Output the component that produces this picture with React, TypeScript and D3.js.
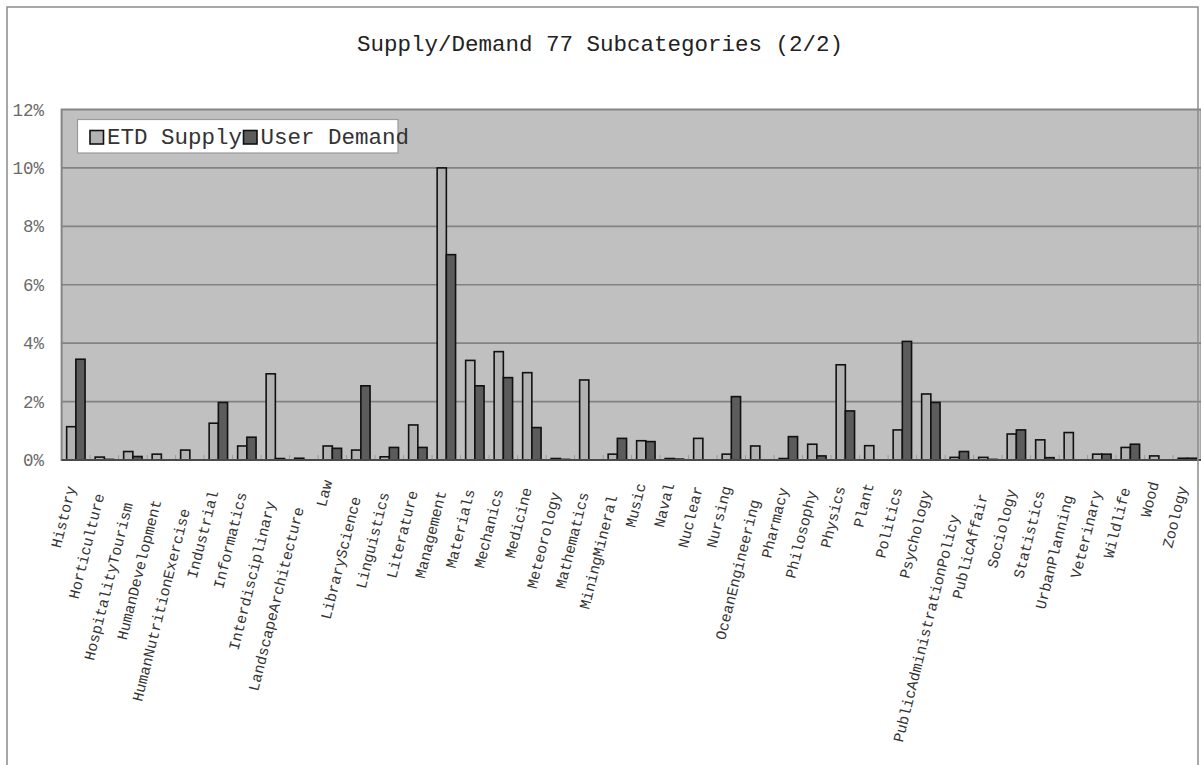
import React from "react";
import * as d3 from "d3";

// Subject subcategories, second half of the 77 (in chart order)
const categories = [
  "History", "Horticulture", "HospitalityTourism", "HumanDevelopment",
  "HumanNutritionExercise", "Industrial", "Informatics", "Interdisciplinary",
  "LandscapeArchitecture", "Law", "LibraryScience", "Linguistics", "Literature",
  "Management", "Materials", "Mechanics", "Medicine", "Meteorology",
  "Mathematics", "MiningMineral", "Music", "Naval", "Nuclear", "Nursing",
  "OceanEngineering", "Pharmacy", "Philosophy", "Physics", "Plant", "Politics",
  "Psychology", "PublicAdministrationPolicy", "PublicAffair", "Sociology",
  "Statistics", "UrbanPlanning", "Veterinary", "Wildlife", "Wood", "Zoology",
];

// Share of ETD supply per subcategory (%)
const etdSupply = [
  1.14, 0.1, 0.29, 0.2, 0.34, 1.26, 0.48, 2.95, 0.06, 0.48, 0.34, 0.11, 1.2,
  10.0, 3.41, 3.71, 2.99, 0.05, 2.74, 0.2, 0.66, 0.05, 0.74, 0.2, 0.48, 0.05,
  0.54, 3.26, 0.49, 1.03, 2.26, 0.09, 0.09, 0.89, 0.69, 0.94, 0.2, 0.43, 0.14,
  0.06,
];

// Share of user demand per subcategory (%)
const userDemand = [
  3.45, 0.02, 0.12, 0, 0, 1.97, 0.78, 0.05, 0, 0.4, 2.54, 0.43, 0.43, 7.03,
  2.54, 2.82, 1.11, 0.02, 0, 0.74, 0.63, 0.03, 0, 2.17, 0, 0.8, 0.14, 1.68, 0,
  4.06, 1.97, 0.29, 0.02, 1.03, 0.08, 0, 0.2, 0.54, 0, 0.06,
];

const seriesNames = ["ETD Supply", "User Demand"];
const seriesFills = ["#b2b2b2", "#5c5c5c"];
const yTicks = [0, 2, 4, 6, 8, 10, 12];
const chartTitle = "Supply/Demand 77 Subcategories (2/2)";

const W = 1201;
const H = 765;
const plot = { left: 61.6, right: 1201.6, top: 109.5, bottom: 460 };
const MONO = "'Liberation Mono', 'DejaVu Sans Mono', monospace";

export default function App() {
  const x = d3
    .scaleBand<string>()
    .domain(categories)
    .range([plot.left, plot.right])
    .paddingInner(0.354)
    .paddingOuter(0.177);

  const xSeries = d3
    .scaleBand<number>()
    .domain([0, 1])
    .range([0, x.bandwidth()])
    .padding(0);

  const y = d3.scaleLinear().domain([0, 12]).range([plot.bottom, plot.top]);

  const step = x.step();
  const series = [etdSupply, userDemand];

  const legendFont = 22.5;
  const charW = legendFont * 0.6;
  const legendItems = (() => {
    let cx = 90;
    return seriesNames.map((name, i) => {
      const item = { name, fill: seriesFills[i], sx: cx, tx: cx + 17 };
      cx = item.tx + name.length * charW + 1.5;
      return item;
    });
  })();

  return (
    <svg
      width={W}
      height={H}
      viewBox={`0 0 ${W} ${H}`}
      style={{ position: "absolute", left: 0, top: 0, background: "#fff" }}
    >
      <rect x={0} y={0} width={W} height={H} fill="#fff" />

      {/* title */}
      <text
        x={600}
        y={50.5}
        textAnchor="middle"
        fontFamily={MONO}
        fontSize={22.5}
        fill="#222"
      >
        {chartTitle}
      </text>

      {/* plot area */}
      <rect
        x={plot.left}
        y={plot.top}
        width={plot.right - plot.left}
        height={plot.bottom - plot.top}
        fill="#c0c0c0"
        stroke="#858585"
        strokeWidth={2}
      />

      {/* gridlines */}
      {yTicks
        .filter((t) => t > 0 && t < 12)
        .map((t) => (
          <line
            key={`g${t}`}
            x1={plot.left}
            x2={plot.right}
            y1={y(t)}
            y2={y(t)}
            stroke="#828282"
            strokeWidth={1.6}
          />
        ))}

      {/* category tick marks */}
      {categories.map((c, i) => {
        const bx = plot.left + i * step;
        return i === 0 ? null : (
          <line
            key={`tk${c}`}
            x1={bx}
            x2={bx}
            y1={plot.bottom - 5}
            y2={plot.bottom}
            stroke="#9a9a9a"
            strokeWidth={1}
          />
        );
      })}

      {/* bars */}
      {categories.map((c) => (
        <g key={`b${c}`} transform={`translate(${x(c)},0)`}>
          {series.map((vals, si) => {
            const v = vals[categories.indexOf(c)];
            if (!(v > 0)) return null;
            return (
              <rect
                key={si}
                x={xSeries(si)}
                y={y(v)}
                width={xSeries.bandwidth()}
                height={y(0) - y(v)}
                fill={seriesFills[si]}
                stroke="#111"
                strokeWidth={1.6}
              />
            );
          })}
        </g>
      ))}

      {/* baseline */}
      <line
        x1={plot.left}
        x2={plot.right}
        y1={y(0)}
        y2={y(0)}
        stroke="#4a4a4a"
        strokeWidth={2}
      />

      {/* y tick labels */}
      {yTicks.map((t) => (
        <text
          key={`yl${t}`}
          x={44}
          y={y(t)}
          dy="0.35em"
          textAnchor="end"
          fontFamily={MONO}
          fontSize={17.5}
          fill="#6a6a6a"
        >
          {`${t}%`}
        </text>
      ))}

      {/* category labels */}
      {categories.map((c) => {
        const cx = (x(c) ?? 0) + x.bandwidth() / 2;
        const cy = 477 + c.length * 1.5;
        return (
          <text
            key={`xl${c}`}
            transform={`translate(${cx},${cy}) rotate(-76)`}
            textAnchor="end"
            fontFamily={MONO}
            fontSize={15}
            fill="#333"
          >
            {c}
          </text>
        );
      })}

      {/* legend */}
      <rect
        x={77.5}
        y={119.5}
        width={320.5}
        height={33.5}
        fill="#fff"
        stroke="#9a9a9a"
        strokeWidth={1.2}
      />
      {legendItems.map((it) => (
        <g key={it.name}>
          <rect
            x={it.sx}
            y={130.5}
            width={13.5}
            height={13.5}
            fill={it.fill}
            stroke="#111"
            strokeWidth={1.6}
          />
          <text
            x={it.tx}
            y={144}
            fontFamily={MONO}
            fontSize={legendFont}
            fill="#333"
          >
            {it.name}
          </text>
        </g>
      ))}

      {/* chart border */}
      <rect
        x={7}
        y={7}
        width={1191}
        height={800}
        fill="none"
        stroke="#8c8c8c"
        strokeWidth={1.5}
      />
    </svg>
  );
}
